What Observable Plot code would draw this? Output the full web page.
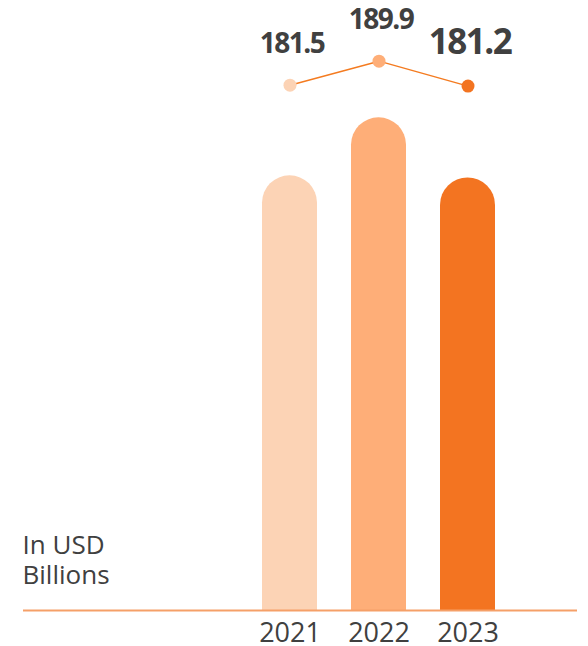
<!DOCTYPE html>
<html>
<head>
<meta charset="utf-8">
<script src="https://cdn.jsdelivr.net/npm/d3@7"></script>
<script src="https://cdn.jsdelivr.net/npm/@observablehq/plot@0.6"></script>
<style>
  html, body { margin: 0; padding: 0; background: #fff; }
  #chart { position: relative; width: 588px; height: 646px; }
  #chart svg { display: block; position: absolute; left: 0; top: 0; }
</style>
</head>
<body>
<div id="chart"></div>
<script>
const years = ["2021", "2022", "2023"];
const values = [181.5, 189.9, 181.2];
const colors = ["#fcd3b5", "#feae78", "#f37421"];
const unitLines = ["In USD", "Billions"];
const axisBase = 118.55;

const data = years.map((year, i) => ({year, value: values[i]}));

const font = "'Open Sans', 'Noto Sans', sans-serif";
const xScale = {type: "band", domain: years, range: [226.2, 529.6], padding: 0.386, axis: null};
const colorScale = {domain: years, range: colors};

const barPlot = Plot.plot({
  width: 588, height: 646,
  marginLeft: 23, marginRight: 11, marginTop: 0, marginBottom: 36,
  style: {fontFamily: font, background: "transparent"},
  x: xScale,
  y: {domain: [axisBase, 189.9], range: [610, 117.3], axis: null},
  color: colorScale,
  marks: [
    Plot.barY(data, {x: "year", y1: axisBase, y2: "value", fill: "year", rx: 27.5, insetBottom: -40, clip: true}),
    Plot.ruleY([axisBase], {stroke: "#f5a068", strokeWidth: 2}),
    Plot.text(data, {x: "year", text: "year", frameAnchor: "bottom", lineAnchor: "bottom", dy: 31.7, fontSize: 27, fill: "#404040"}),
    ...unitLines.map((line, i) => Plot.text([line], {
      text: d => d, frameAnchor: "bottom-left", textAnchor: "start",
      lineAnchor: "bottom", dy: -26.7 - (unitLines.length - 1 - i) * 30, dx: -1,
      fontSize: 26, fill: "#404040"
    }))
  ]
});

const linePlot = Plot.plot({
  width: 588, height: 646,
  marginLeft: 23, marginRight: 11, marginTop: 0, marginBottom: 36,
  style: {fontFamily: font, background: "transparent", letterSpacing: "-1.5px"},
  x: xScale,
  y: {domain: [181.5, 189.9], range: [84.7, 60.7], axis: null},
  color: colorScale,
  marks: [
    Plot.line(data, {x: "year", y: "value", stroke: "#f47b20", strokeWidth: 1.4}),
    Plot.dot(data, {x: "year", y: "value", r: 6.5, fill: "year", stroke: "none"}),
    Plot.text(data, {
      x: "year", y: "value", text: d => d.value.toFixed(1),
      lineAnchor: "bottom", dy: -32, dx: 2,
      fontSize: d => d.year === "2023" ? 35 : 28,
      fontWeight: 700, fill: "#404040"
    })
  ]
});

const chart = document.getElementById("chart");
chart.appendChild(barPlot);
chart.appendChild(linePlot);
</script>
</body>
</html>
